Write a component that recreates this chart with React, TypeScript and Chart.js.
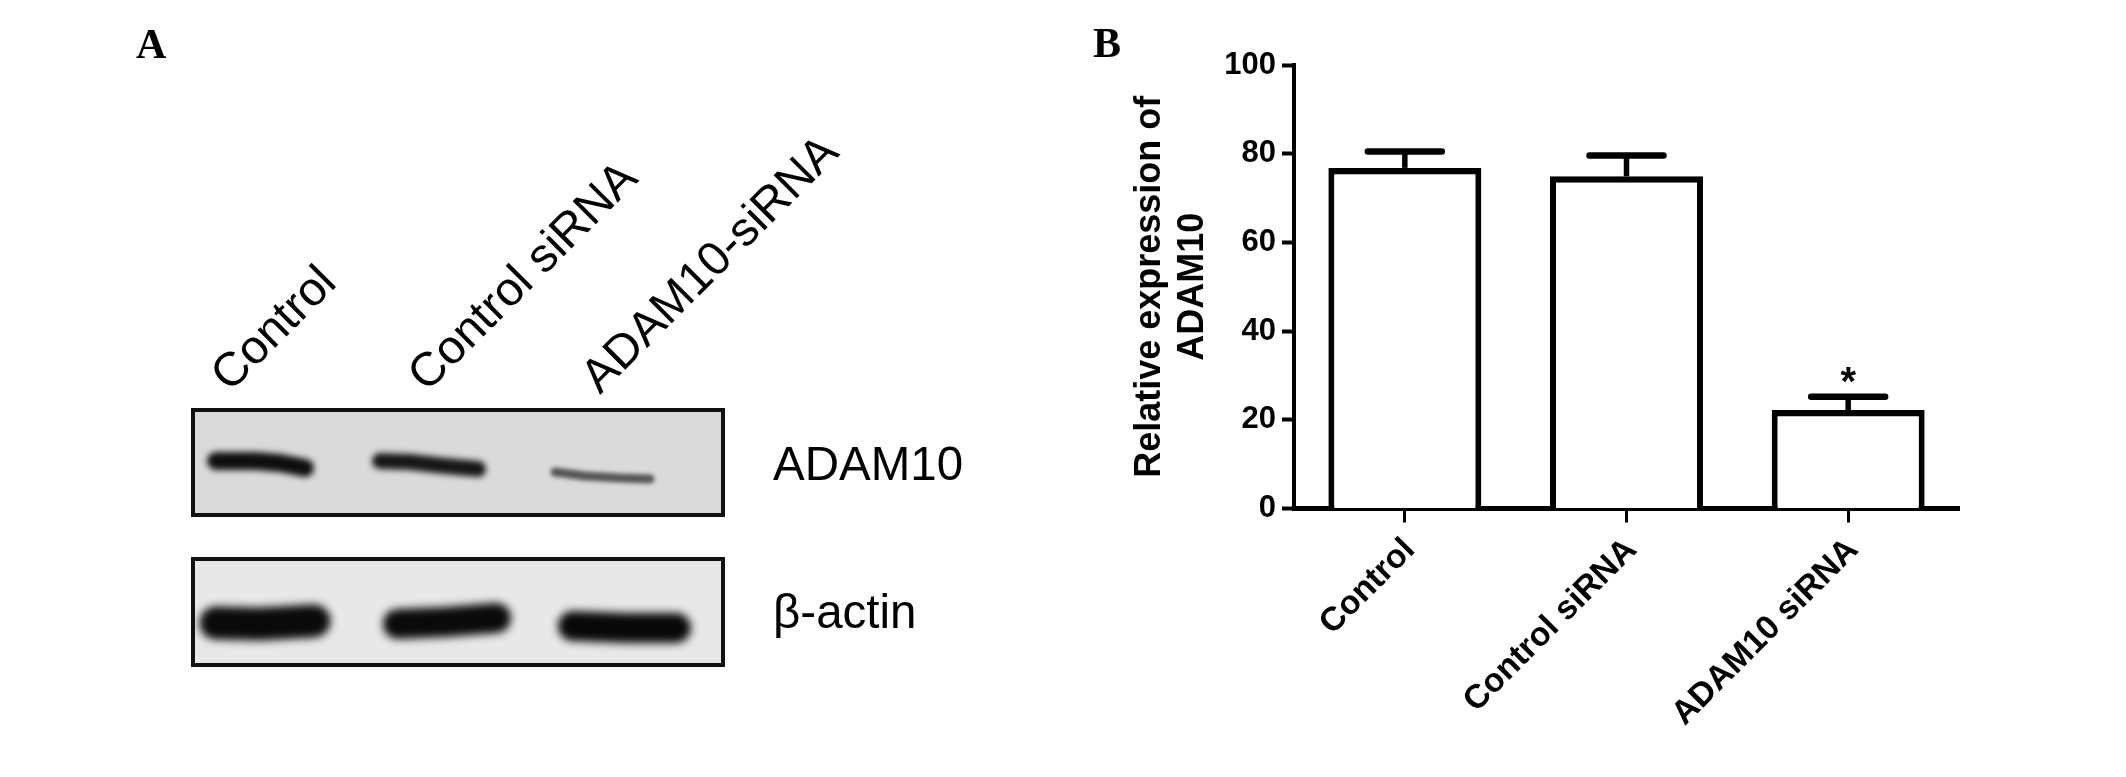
import React, { useEffect, useRef } from "react";
import { Chart, registerables } from "chart.js";

Chart.register(...registerables);

const categories = ["Control", "Control siRNA", "ADAM10 siRNA"];
const means = [76.8, 74.9, 22.2];
const errorTops = [80.5, 79.6, 25.2];
const significance = ["", "", "*"];
const yTicks = [0, 20, 40, 60, 80, 100];
const blotLanes = ["Control", "Control siRNA", "ADAM10-siRNA"];
const blotTargets = ["ADAM10", "β-actin"];

const SANS = '"Liberation Sans", Arial, sans-serif';
const SERIF = '"Liberation Serif", "Times New Roman", serif';

function band(ctx: CanvasRenderingContext2D, pts: number[][], width: number, colour: string, blur: number) {
  ctx.save();
  ctx.filter = `blur(${blur}px)`;
  ctx.strokeStyle = colour;
  ctx.lineWidth = width;
  ctx.lineCap = "round";
  ctx.lineJoin = "round";
  ctx.beginPath();
  pts.forEach((p, i) => (i ? ctx.lineTo(p[0], p[1]) : ctx.moveTo(p[0], p[1])));
  ctx.stroke();
  ctx.restore();
}

function rotatedText(ctx: CanvasRenderingContext2D, text: string, x: number, y: number, font: string) {
  ctx.save();
  ctx.translate(x, y);
  ctx.rotate(-Math.PI / 4);
  ctx.font = font;
  ctx.fillStyle = "#000";
  ctx.textAlign = "left";
  ctx.textBaseline = "alphabetic";
  ctx.fillText(text, 0, 0);
  ctx.restore();
}

const panelA = {
  id: "panelA",
  beforeDraw(chart: any) {
    const ctx: CanvasRenderingContext2D = chart.ctx;
    ctx.save();
    ctx.fillStyle = "#fff";
    ctx.fillRect(0, 0, chart.width, chart.height);

    // membrane 1
    ctx.save();
    ctx.beginPath();
    ctx.rect(193, 410, 530, 105);
    ctx.clip();
    ctx.fillStyle = "#dadada";
    ctx.fillRect(191, 408, 534, 109);
    band(ctx, [[216, 461], [255, 461], [280, 463], [305, 468]], 18, "#0e0e0e", 3);
    band(ctx, [[380, 461], [410, 462], [445, 466], [478, 469]], 16, "#161616", 3);
    band(ctx, [[555, 472], [585, 476], [620, 478], [650, 479]], 9, "#555", 2.2);
    ctx.restore();
    ctx.strokeStyle = "#111";
    ctx.lineWidth = 4;
    ctx.strokeRect(193, 410, 530, 105);

    // membrane 2
    ctx.save();
    ctx.beginPath();
    ctx.rect(193, 559, 530, 106);
    ctx.clip();
    ctx.fillStyle = "#e8e8e8";
    ctx.fillRect(191, 557, 534, 110);
    band(ctx, [[216, 623], [260, 624], [314, 621]], 33, "#0a0a0a", 4.5);
    band(ctx, [[398, 624], [445, 622], [496, 618]], 30, "#0a0a0a", 4.5);
    band(ctx, [[573, 626], [625, 628], [676, 628]], 30, "#080808", 4.5);
    ctx.restore();
    ctx.strokeStyle = "#111";
    ctx.lineWidth = 4;
    ctx.strokeRect(193, 559, 530, 106);

    const laneFont = `47.5px ${SANS}`;
    rotatedText(ctx, blotLanes[0], 230, 393, laneFont);
    rotatedText(ctx, blotLanes[1], 427, 393, laneFont);
    rotatedText(ctx, blotLanes[2], 600, 395, laneFont);

    ctx.fillStyle = "#000";
    ctx.textAlign = "left";
    ctx.textBaseline = "alphabetic";
    ctx.font = `47.5px ${SANS}`;
    ctx.fillText(blotTargets[0], 773, 480);
    ctx.fillText(blotTargets[1], 773, 628);

    ctx.font = `bold 42px ${SERIF}`;
    ctx.fillText("A", 136, 58);
    ctx.fillText("B", 1093, 57);
    ctx.restore();
  },
};

const errorBars = {
  id: "errorBars",
  afterDatasetsDraw(chart: any) {
    const ctx: CanvasRenderingContext2D = chart.ctx;
    const y = chart.scales.y;
    const meta = chart.getDatasetMeta(0);
    ctx.save();
    ctx.strokeStyle = "#000";
    ctx.fillStyle = "#000";
    meta.data.forEach((bar: any, i: number) => {
      const top = y.getPixelForValue(errorTops[i]);
      const base = y.getPixelForValue(means[i]);
      ctx.lineCap = "butt";
      ctx.lineWidth = 5.5;
      ctx.beginPath();
      ctx.moveTo(bar.x, base);
      ctx.lineTo(bar.x, top);
      ctx.stroke();
      ctx.lineCap = "round";
      ctx.lineWidth = 6.5;
      ctx.beginPath();
      ctx.moveTo(bar.x - 37, top);
      ctx.lineTo(bar.x + 37, top);
      ctx.stroke();
      if (significance[i]) {
        ctx.font = `bold 40px ${SANS}`;
        ctx.textAlign = "center";
        ctx.textBaseline = "alphabetic";
        ctx.fillText(significance[i], bar.x, top - 2);
      }
    });
    ctx.restore();
  },
};

export default function App() {
  const ref = useRef<HTMLCanvasElement>(null);
  useEffect(() => {
    const chart = new Chart(ref.current as HTMLCanvasElement, {
      type: "bar",
      data: {
        labels: categories,
        datasets: [
          {
            data: means,
            backgroundColor: "#fff",
            borderColor: "#000",
            borderWidth: { top: 6.5, left: 6, right: 6, bottom: 0 },
            borderSkipped: false,
            barPercentage: 0.69,
            categoryPercentage: 1,
          },
        ],
      },
      options: {
        responsive: false,
        animation: false,
        devicePixelRatio: 1,
        layout: { padding: { left: 1128, top: 65, right: 167, bottom: 48.5 } },
        plugins: { legend: { display: false }, tooltip: { enabled: false }, title: { display: false } },
        scales: {
          x: {
            z: 1,
            afterFit(s: any) {
              s.height = 220;
            },
            grid: { drawOnChartArea: false, offset: false, tickLength: 14, tickWidth: 3, tickColor: "#000" },
            border: { color: "#000", width: 5 },
            ticks: {
              color: "#000",
              font: { family: SANS, size: 33.5, weight: "bold" },
              minRotation: 45,
              maxRotation: 45,
              padding: 8,
              labelOffset: 5,
              autoSkip: false,
            },
          },
          y: {
            min: 0,
            max: 100,
            afterFit(s: any) {
              s.width = 166;
            },
            afterBuildTicks(s: any) {
              s.ticks = yTicks.map((value) => ({ value }));
            },
            grid: { drawOnChartArea: false, tickLength: 12, tickWidth: 4, tickColor: "#000" },
            border: { color: "#000", width: 4 },
            ticks: {
              color: "#000",
              font: { family: SANS, size: 31, weight: "bold" },
              padding: 6,
            },
            title: {
              display: true,
              text: ["Relative expression of", "ADAM10"],
              color: "#000",
              font: { family: SANS, size: 36, weight: "bold", lineHeight: 1.2 },
              padding: 0,
            },
          },
        },
      },
      plugins: [panelA, errorBars],
    } as any);
    return () => chart.destroy();
  }, []);
  return (
    <canvas
      ref={ref}
      width={2126}
      height={777}
      style={{ position: "absolute", left: 0, top: 0, display: "block" }}
    />
  );
}
